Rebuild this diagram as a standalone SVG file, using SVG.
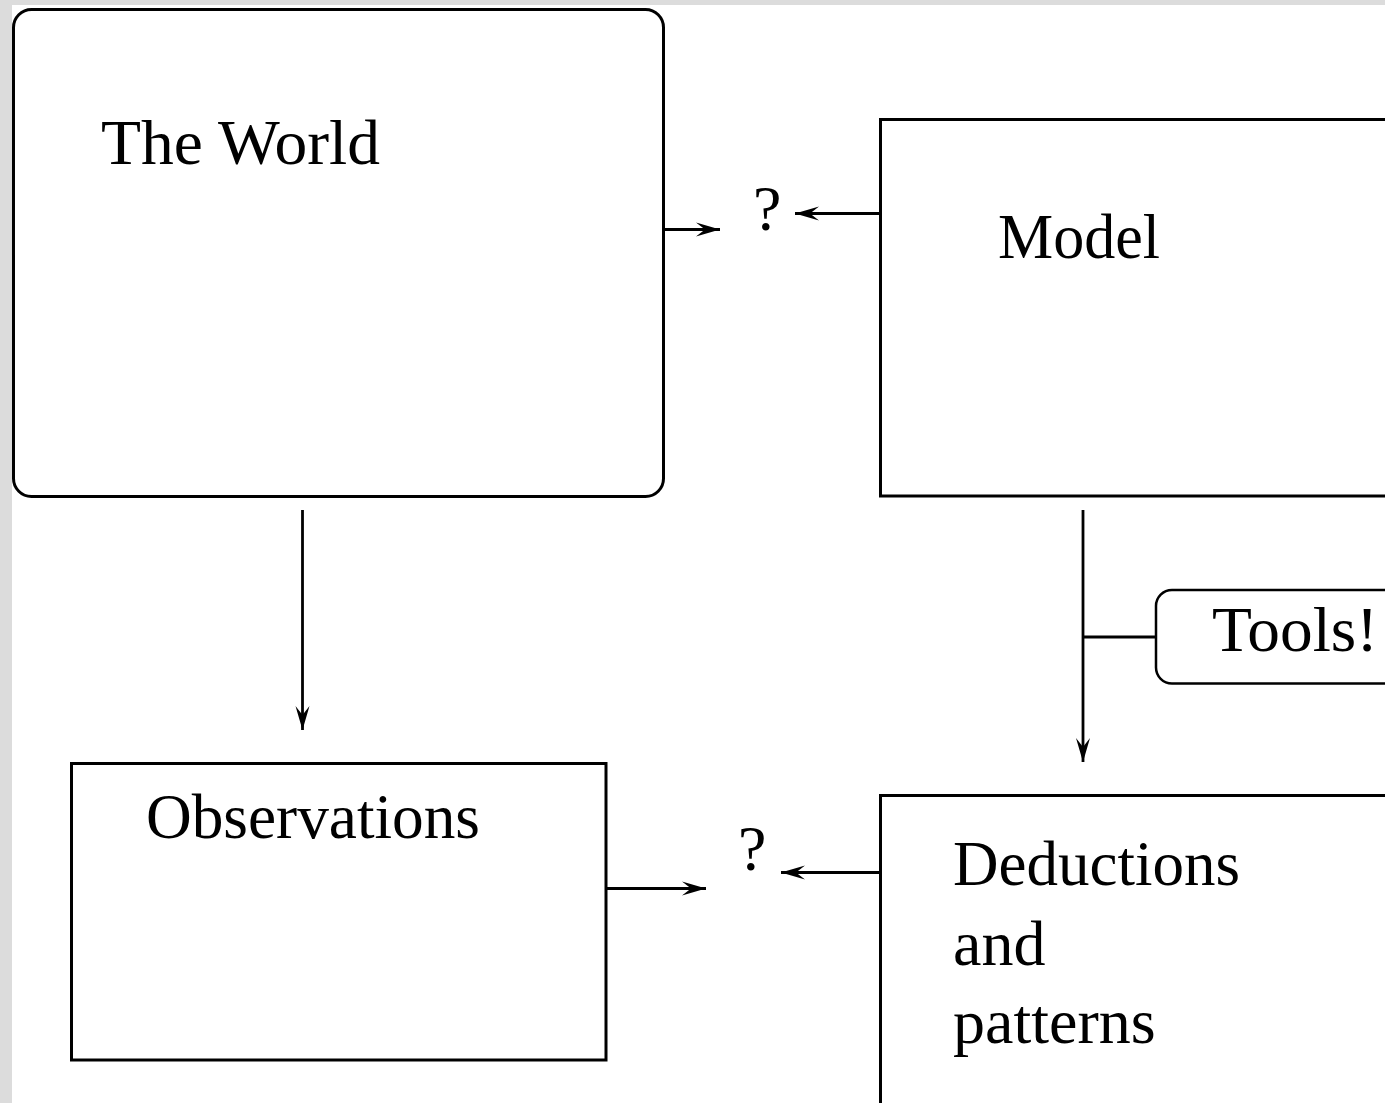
<svg xmlns="http://www.w3.org/2000/svg" width="1385" height="1103" viewBox="0 0 1385 1103">
  <style>
    .box { fill: #ffffff; stroke: #000000; stroke-width: 3; }
    .tbox { fill: #ffffff; stroke: #000000; stroke-width: 2.5; }
    .lbl { font-family: "Liberation Serif", "Times New Roman", serif; font-size: 64px; fill: #000000; }
    .conn { fill: none; stroke: #000000; stroke-width: 2.8; }
  </style>
  <defs>
    <marker id="ah" markerUnits="userSpaceOnUse" markerWidth="30" markerHeight="20" viewBox="-26 -10 30 20" refX="0" refY="0" orient="auto">
      <path d="M0,0 L-24,-7 L-15,0 L-24,7 Z" fill="#000000"/>
    </marker>
  </defs>
  <rect x="0" y="0" width="1385" height="1103" fill="#dcdcdc"/>
  <rect x="12" y="5" width="1373" height="1098" fill="#ffffff"/>

  <g id="the-world">
    <rect class="box" x="13.5" y="9.5" width="650" height="487" rx="18" ry="18"/>
    <text class="lbl" x="101" y="164" textLength="279" lengthAdjust="spacingAndGlyphs">The World</text>
  </g>

  <g id="model">
    <rect class="box" x="880.5" y="119.5" width="540" height="376.5"/>
    <text class="lbl" x="998" y="258" textLength="162" lengthAdjust="spacingAndGlyphs">Model</text>
  </g>

  <g id="observations">
    <rect class="box" x="71.5" y="763.5" width="534.5" height="296.5"/>
    <text class="lbl" x="146" y="838" textLength="334" lengthAdjust="spacingAndGlyphs">Observations</text>
  </g>

  <g id="deductions">
    <rect class="box" x="880.5" y="795.5" width="540" height="340"/>
    <text class="lbl" x="953" y="885" textLength="287" lengthAdjust="spacingAndGlyphs">Deductions</text>
    <text class="lbl" x="953" y="965">and</text>
    <text class="lbl" x="953" y="1043">patterns</text>
  </g>

  <g id="tools">
    <rect class="tbox" x="1156" y="590" width="260" height="93.5" rx="16" ry="16"/>
    <text class="lbl" x="1212" y="651" textLength="166" lengthAdjust="spacingAndGlyphs">Tools!</text>
  </g>

  <g id="q-top">
    <text class="lbl" x="753" y="230">?</text>
  </g>

  <g id="q-bottom">
    <text class="lbl" x="738" y="870">?</text>
  </g>

  <g id="connectors">
    <line class="conn" x1="665" y1="229.5" x2="720" y2="229.5" marker-end="url(#ah)"/>
    <line class="conn" x1="880" y1="213.5" x2="795" y2="213.5" marker-end="url(#ah)"/>
    <line class="conn" x1="606" y1="888.5" x2="706" y2="888.5" marker-end="url(#ah)"/>
    <line class="conn" x1="880" y1="872.5" x2="781" y2="872.5" marker-end="url(#ah)"/>
    <line class="conn" x1="302.5" y1="510" x2="302.5" y2="730" marker-end="url(#ah)"/>
    <line class="conn" x1="1083" y1="510" x2="1083" y2="762" marker-end="url(#ah)"/>
    <line class="conn" x1="1083" y1="637" x2="1156" y2="637"/>
  </g>
</svg>
